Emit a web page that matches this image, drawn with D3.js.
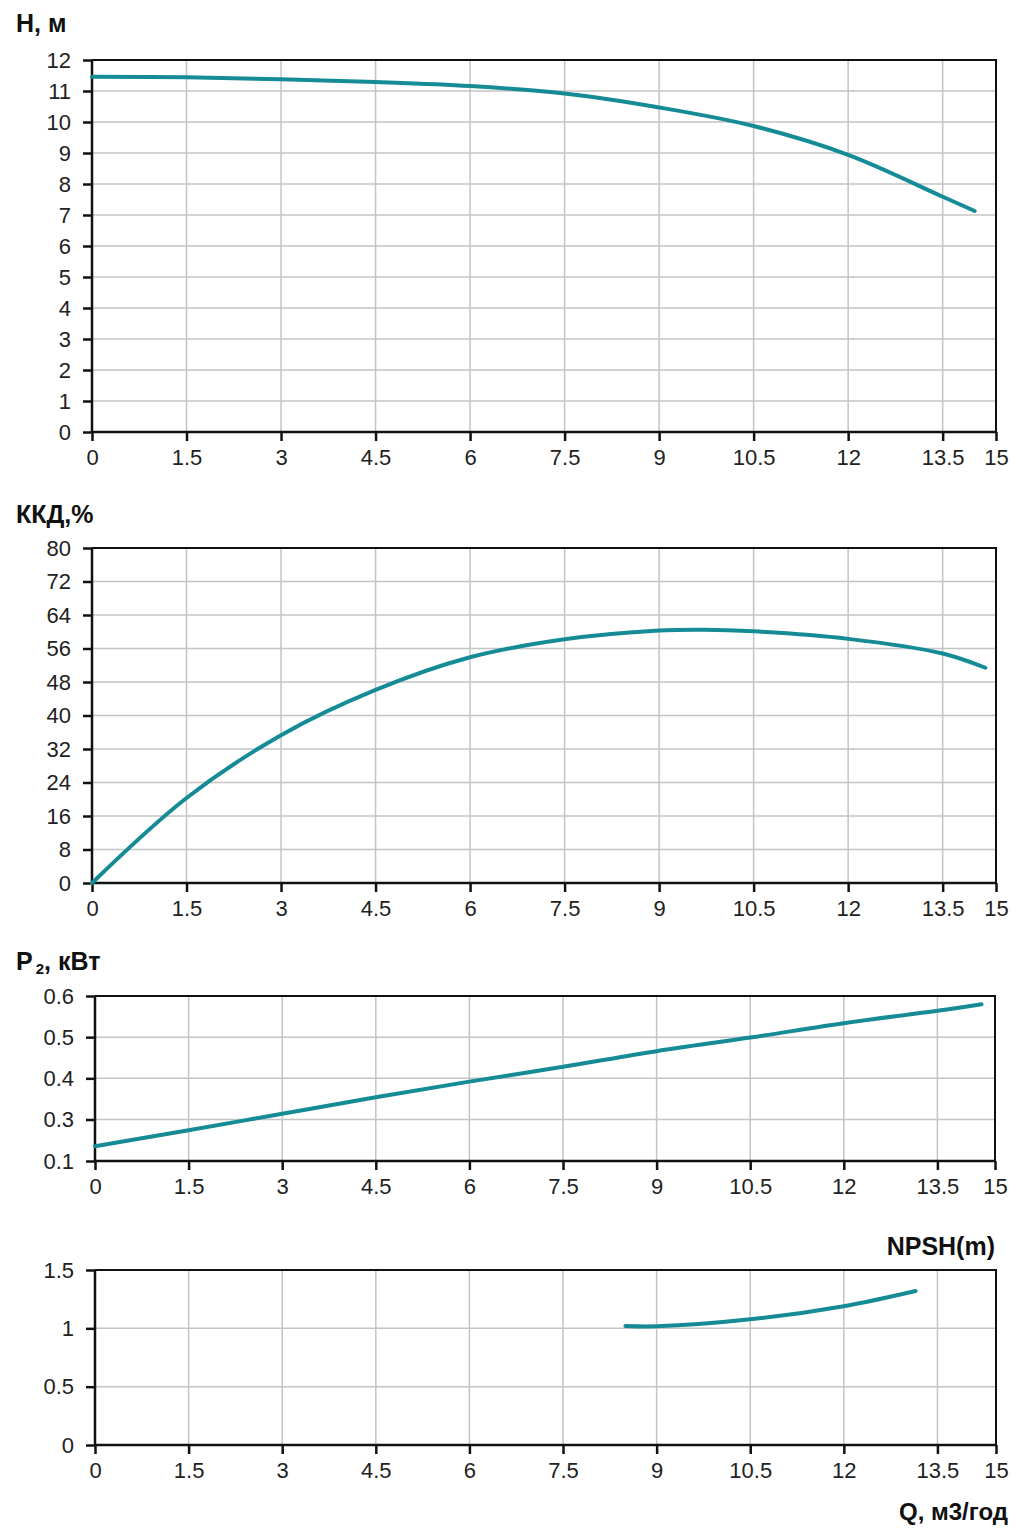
<!DOCTYPE html>
<html>
<head>
<meta charset="utf-8">
<script src="https://cdn.jsdelivr.net/npm/d3@7"></script>
<style>
  html, body { margin: 0; padding: 0; background: #fff; }
  svg { display: block; }
  text { font-family: Arial, "Liberation Sans", sans-serif; }
</style>
</head>
<body>
<svg id="chart" width="1023" height="1537"></svg>
<script>
// ---------- data ----------
const qTicks = [0, 1.5, 3, 4.5, 6, 7.5, 9, 10.5, 12, 13.5, 15];
const qTickLabels = ["0", "1.5", "3", "4.5", "6", "7.5", "9", "10.5", "12", "13.5", "15"];

const headTicks = [0, 1, 2, 3, 4, 5, 6, 7, 8, 9, 10, 11, 12];
const headQ = [0, 1.5, 3, 4.5, 6, 7.5, 9, 10.5, 12, 13.5, 14.4];
const headH = [11.46, 11.44, 11.38, 11.29, 11.16, 10.92, 10.47, 9.87, 8.94, 7.59, 7.13];

const effTicks = [0, 8, 16, 24, 32, 40, 48, 56, 64, 72, 80];
const effQ = [0, 1.5, 3, 4.5, 6, 7.5, 9, 9.7, 10.5, 12, 13.5, 14.7];
const effVal = [0, 20.3, 35.3, 46.1, 53.9, 58.2, 60.3, 60.5, 60.1, 58.3, 54.8, 51.4];

const powerTicks = [0.1, 0.3, 0.4, 0.5, 0.6];
const powerTickLabels = ["0.1", "0.3", "0.4", "0.5", "0.6"];
const powerQ = [0, 1.5, 3, 4.5, 6, 7.5, 9, 10.5, 12, 13.5, 14.65];
const powerVal = [0.171, 0.248, 0.314, 0.354, 0.392, 0.428, 0.466, 0.499, 0.534, 0.564, 0.580];

const npshTicks = [0, 0.5, 1, 1.5];
const npshTickLabels = ["0", "0.5", "1", "1.5"];
const npshQ = [8.5, 9, 10.5, 12, 13.15];
const npshVal = [1.02, 1.017, 1.077, 1.19, 1.32];

// ---------- drawing ----------
const svg = d3.select("#chart");
const lineColor = "#158b95";

function panel(cfg) {
  const g = svg.append("g");
  // printed x axis is compressed in its last interval (13.5 -> 15)
  const x = d3.scaleLinear()
    .domain([0, 13.5, 15])
    .range([cfg.left, cfg.left + (cfg.right - cfg.left) * cfg.frac, cfg.right]);
  const y = d3.scaleLinear().domain(cfg.yDomain).range(cfg.yRange);

  // grid
  g.append("g").selectAll("line").data(qTicks.slice(1, -1)).join("line")
    .attr("x1", d => x(d)).attr("x2", d => x(d))
    .attr("y1", cfg.top).attr("y2", cfg.bottom)
    .attr("stroke", "#c4c4c4").attr("stroke-width", 1.5);
  g.append("g").selectAll("line").data(cfg.yTicks.slice(1, -1)).join("line")
    .attr("x1", cfg.left).attr("x2", cfg.right)
    .attr("y1", d => y(d)).attr("y2", d => y(d))
    .attr("stroke", "#c4c4c4").attr("stroke-width", 1.5);

  // border top/right
  g.append("path")
    .attr("d", `M${cfg.left},${cfg.top}H${cfg.right}V${cfg.bottom}`)
    .attr("fill", "none").attr("stroke", "#111").attr("stroke-width", 2);

  // x axis
  const xa = g.append("g").attr("transform", `translate(0,${cfg.bottom})`)
    .call(d3.axisBottom(x).tickValues(qTicks)
      .tickFormat((d, i) => qTickLabels[i]).tickSize(9).tickPadding(8));
  xa.select(".domain").attr("stroke", "#111").attr("stroke-width", 2.5)
    .attr("d", `M${cfg.left},0H${cfg.right}`);
  xa.selectAll(".tick line").attr("stroke", "#111").attr("stroke-width", 2.5);
  xa.selectAll(".tick text").attr("font-size", 22).attr("fill", "#222")
    .attr("font-family", "Arial, 'Liberation Sans', sans-serif");

  // y axis
  const ya = g.append("g").attr("transform", `translate(${cfg.left},0)`)
    .call(d3.axisLeft(y).tickValues(cfg.yTicks)
      .tickFormat((d, i) => cfg.yLabels[i]).tickSize(9).tickPadding(12));
  ya.select(".domain").attr("stroke", "#111").attr("stroke-width", 2.5)
    .attr("d", `M0,${cfg.top}V${cfg.bottom}`);
  ya.selectAll(".tick line").attr("stroke", "#111").attr("stroke-width", 2.5);
  ya.selectAll(".tick text").attr("font-size", 22).attr("fill", "#222")
    .attr("font-family", "Arial, 'Liberation Sans', sans-serif");

  // curve
  const pts = cfg.q.map((q, i) => [q, cfg.v[i]]);
  g.append("path").datum(pts)
    .attr("d", d3.line().x(d => x(d[0])).y(d => y(d[1])).curve(d3.curveCatmullRom.alpha(0.5)))
    .attr("fill", "none").attr("stroke", lineColor).attr("stroke-width", 4)
    .attr("stroke-linecap", "round");
  return g;
}

panel({ left: 92, right: 996, top: 60, bottom: 432, frac: 0.941,
  yDomain: [0, 12], yRange: [432, 60], yTicks: headTicks,
  yLabels: headTicks.map(String), q: headQ, v: headH });

panel({ left: 92, right: 996, top: 548, bottom: 883, frac: 0.941,
  yDomain: [0, 80], yRange: [883, 548], yTicks: effTicks,
  yLabels: effTicks.map(String), q: effQ, v: effVal });

panel({ left: 95, right: 995, top: 996, bottom: 1161, frac: 0.936,
  yDomain: [0.1, 0.3, 0.6], yRange: [1161, 1119.5, 996], yTicks: powerTicks,
  yLabels: powerTickLabels, q: powerQ, v: powerVal });

panel({ left: 95, right: 996, top: 1270, bottom: 1445, frac: 0.935,
  yDomain: [0, 1.5], yRange: [1445, 1270], yTicks: npshTicks,
  yLabels: npshTickLabels, q: npshQ, v: npshVal });

// titles
const tStyle = s => s.attr("font-weight", "bold").attr("font-size", 25).attr("fill", "#111");
svg.append("text").attr("x", 16).attr("y", 32).text("H, м").call(tStyle);
svg.append("text").attr("x", 16).attr("y", 523).text("ККД,%").call(tStyle);
const p2 = svg.append("text").attr("x", 16).attr("y", 970).call(tStyle);
p2.append("tspan").text("P");
p2.append("tspan").attr("font-size", 15).attr("dx", 3).attr("dy", 4).text("2");
p2.append("tspan").attr("dy", -4).text(", кВт");
svg.append("text").attr("x", 995).attr("y", 1255).attr("text-anchor", "end")
  .text("NPSH(m)").call(tStyle);
svg.append("text").attr("x", 1008).attr("y", 1520).attr("text-anchor", "end")
  .attr("font-family", "'Open Sans', Arial, sans-serif")
  .text("Q, м3/год").call(tStyle).attr("font-size", 24);
</script>
</body>
</html>
